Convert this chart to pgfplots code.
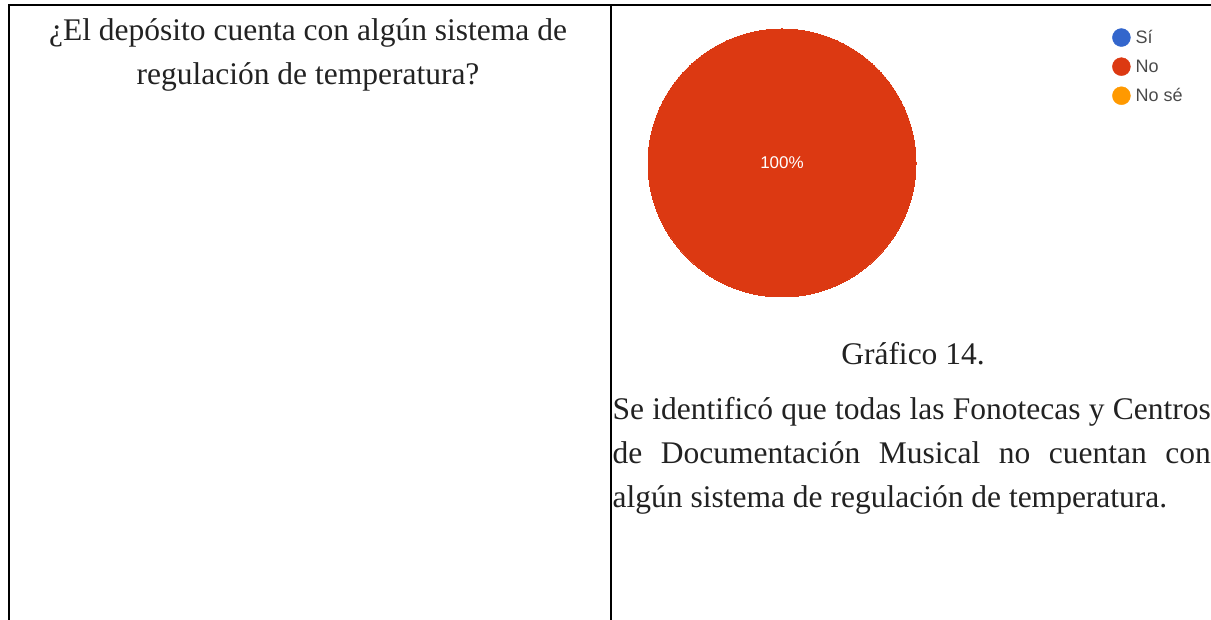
\documentclass[border=0pt]{standalone}
\usepackage{fontspec}
\setmainfont{Liberation Serif}
\newfontfamily\sans{Liberation Sans}
\usepackage{pgfplots}
\pgfplotsset{compat=1.18}
\definecolor{pieRed}{HTML}{DC3912}
\definecolor{pieBlue}{HTML}{3366CC}
\definecolor{pieOrange}{HTML}{FF9900}
\definecolor{legendgray}{HTML}{4A4A4A}
\definecolor{txt}{HTML}{222222}
\begin{document}
\begin{tikzpicture}[x=1pt,y=1pt]
\useasboundingbox (0,0) rectangle (1211,620);
% table borders
\draw[line width=2pt] (8.7,0) -- (8.7,615) -- (1211,615);
\draw[line width=2.2pt] (611,0) -- (611,615);
% left cell
\node[anchor=base, inner sep=0pt, text=txt, font=\fontsize{31.5}{44}\selectfont] at (308,579) {¿El depósito cuenta con algún sistema de};
\node[anchor=base, inner sep=0pt, text=txt, font=\fontsize{31.5}{44}\selectfont] at (308,535) {regulación de temperatura?};
% right cell texts
\node[anchor=base, inner sep=0pt, text=txt, font=\fontsize{31.5}{44}\selectfont] at (913,255) {Gráfico 14.};
\node[anchor=base west, inner sep=0pt, text=txt, font=\fontsize{31.5}{44}\selectfont] at (612.5,200) {\makebox[598pt][s]{Se identificó que todas las Fonotecas y Centros}};
\node[anchor=base west, inner sep=0pt, text=txt, font=\fontsize{31.5}{44}\selectfont] at (612.5,156) {\makebox[598pt][s]{de Documentación Musical no cuentan con}};
\node[anchor=base west, inner sep=0pt, text=txt, font=\fontsize{31.5}{44}\selectfont] at (612.5,112) {algún sistema de regulación de temperatura.};
\begin{axis}[at={(0,0)}, anchor=south west, scale only axis,
  width=1211pt, height=620pt, xmin=0, xmax=1211, ymin=0, ymax=620,
  hide axis, clip=false,
  /pgf/number format/assume math mode=true,
  legend cell align=left,
  legend style={at={(axis cs:1112,592)}, anchor=north west, draw=none, fill=none,
    font=\sans\fontsize{18}{21}\selectfont, text=legendgray, row sep=10.5pt,
    inner sep=0pt, column sep=3pt},
]
\addlegendimage{legend image code/.code={\fill[pieBlue] (0pt,0pt) circle (9pt);}}
\addlegendentry{Sí}
\addlegendimage{legend image code/.code={\fill[pieRed] (0pt,0pt) circle (9pt);}}
\addlegendentry{No}
\addlegendimage{legend image code/.code={\fill[pieOrange] (0pt,0pt) circle (9pt);}}
\addlegendentry{No sé}
\addplot[only marks, mark=*, mark size=134pt, mark options={fill=pieRed, draw=pieRed, line width=0pt},
  forget plot, point meta=explicit,
  nodes near coords={\pgfmathprintnumber{\pgfplotspointmeta}\%},
  every node near coord/.append style={anchor=center, text=white, font=\sans\fontsize{17}{20}\selectfont}]
  table[meta=p] {
x y p
782 457 100
};
\end{axis}
\end{tikzpicture}
\end{document}
